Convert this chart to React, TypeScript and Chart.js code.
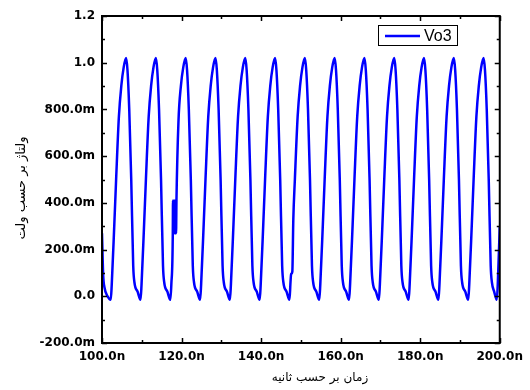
import React, { useEffect, useRef } from "react";
import { Chart, registerables } from "chart.js";

Chart.register(...registerables);

// Simulated node voltage Vo3 over 100–200 ns (time in ns, voltage in V)
const timeNs = [
  100.0, 100.3, 100.6, 101.4, 102.2,
  102.45, 103.1, 103.55, 104.25, 104.85, 105.45, 106.05, 106.4, 106.85, 107.35, 107.85, 108.15, 108.95, 109.69,
  109.94, 110.59, 111.04, 111.74, 112.34, 112.94, 113.54, 113.89, 114.34, 114.84, 115.34, 115.64, 116.44, 117.18,
  117.43, 117.8, 117.85, 118.05, 118.15, 118.35, 118.45, 118.62, 118.72, 119.23, 119.83, 120.43, 121.03, 121.38, 121.83, 122.33, 122.83, 123.13, 123.93, 124.67,
  124.92, 125.57, 126.02, 126.72, 127.32, 127.92, 128.52, 128.87, 129.32, 129.82, 130.32, 130.62, 131.42, 132.16,
  132.41, 133.06, 133.51, 134.21, 134.81, 135.41, 136.01, 136.36, 136.81, 137.31, 137.81, 138.11, 138.91, 139.65,
  139.9, 140.55, 141.0, 141.7, 142.3, 142.9, 143.5, 143.85, 144.3, 144.8, 145.3, 145.6, 146.4, 147.14,
  147.39, 147.55, 147.85, 148.1, 148.49, 149.19, 149.79, 150.39, 150.99, 151.34, 151.79, 152.29, 152.79, 153.09, 153.89, 154.63,
  154.88, 155.53, 155.98, 156.68, 157.28, 157.88, 158.48, 158.83, 159.28, 159.78, 160.28, 160.58, 161.38, 162.12,
  162.37, 163.02, 163.47, 164.17, 164.77, 165.37, 165.97, 166.32, 166.77, 167.27, 167.77, 168.07, 168.87, 169.61,
  169.86, 170.51, 170.96, 171.66, 172.26, 172.86, 173.46, 173.81, 174.26, 174.76, 175.26, 175.56, 176.36, 177.1,
  177.35, 178.0, 178.45, 179.15, 179.75, 180.35, 180.95, 181.3, 181.75, 182.25, 182.75, 183.05, 183.85, 184.59,
  184.84, 185.49, 185.94, 186.64, 187.24, 187.84, 188.44, 188.79, 189.24, 189.74, 190.24, 190.54, 191.34, 192.08,
  192.33, 192.98, 193.43, 194.13, 194.73, 195.33, 195.93, 196.28, 196.73, 197.23, 197.73, 198.03, 198.6, 199.25,
  199.5, 200.0,
];

const vo3 = [
  0.27, 0.09, 0.04, 0.0, -0.015,
  0.05, 0.31, 0.5, 0.77, 0.9, 0.98, 1.02, 0.97, 0.8, 0.5, 0.13, 0.06, 0.02, -0.015,
  0.05, 0.31, 0.5, 0.77, 0.9, 0.98, 1.02, 0.97, 0.8, 0.5, 0.13, 0.06, 0.02, -0.015,
  0.05, 0.27, 0.41, 0.27, 0.41, 0.27, 0.41, 0.27, 0.41, 0.75, 0.9, 0.98, 1.02, 0.97, 0.8, 0.5, 0.13, 0.06, 0.02, -0.015,
  0.05, 0.31, 0.5, 0.77, 0.9, 0.98, 1.02, 0.97, 0.8, 0.5, 0.13, 0.06, 0.02, -0.015,
  0.05, 0.31, 0.5, 0.77, 0.9, 0.98, 1.02, 0.97, 0.8, 0.5, 0.13, 0.06, 0.02, -0.015,
  0.05, 0.31, 0.5, 0.77, 0.9, 0.98, 1.02, 0.97, 0.8, 0.5, 0.13, 0.06, 0.02, -0.015,
  0.06, 0.095, 0.105, 0.33, 0.5, 0.77, 0.9, 0.98, 1.02, 0.97, 0.8, 0.5, 0.13, 0.06, 0.02, -0.015,
  0.05, 0.31, 0.5, 0.77, 0.9, 0.98, 1.02, 0.97, 0.8, 0.5, 0.13, 0.06, 0.02, -0.015,
  0.05, 0.31, 0.5, 0.77, 0.9, 0.98, 1.02, 0.97, 0.8, 0.5, 0.13, 0.06, 0.02, -0.015,
  0.05, 0.31, 0.5, 0.77, 0.9, 0.98, 1.02, 0.97, 0.8, 0.5, 0.13, 0.06, 0.02, -0.015,
  0.05, 0.31, 0.5, 0.77, 0.9, 0.98, 1.02, 0.97, 0.8, 0.5, 0.13, 0.06, 0.02, -0.015,
  0.05, 0.31, 0.5, 0.77, 0.9, 0.98, 1.02, 0.97, 0.8, 0.5, 0.13, 0.06, 0.02, -0.015,
  0.05, 0.31, 0.5, 0.77, 0.9, 0.98, 1.02, 0.97, 0.8, 0.5, 0.13, 0.06, 0.02, -0.015,
  0.05, 0.3,
];

const xTickValues = [100, 120, 140, 160, 180, 200];
const xTickLabels = ["100.0n", "120.0n", "140.0n", "160.0n", "180.0n", "200.0n"];
const xMinorValues = [110, 130, 150, 170, 190];

const yTickValues = [-0.2, 0, 0.2, 0.4, 0.6, 0.8, 1.0, 1.2];
const yTickLabels = ["-200.0m", "0.0", "200.0m", "400.0m", "600.0m", "800.0m", "1.0", "1.2"];
const yMinorValues = [-0.1, 0.1, 0.3, 0.5, 0.7, 0.9, 1.1];

const seriesName = "Vo3";
const xTitle = "زمان بر حسب ثانیه";
const yTitle = "ولتاژ بر حسب ولت";

const lineColor = "#0000ff";
const tickFont = { family: "'DejaVu Sans', Verdana, sans-serif", size: 12, weight: "bold" as const };

// Box frame with inward major/minor ticks on all four sides
const framePlugin = {
  id: "frameTicks",
  afterDraw(chart: any) {
    const { ctx, chartArea } = chart;
    const { left, right, top, bottom } = chartArea;
    const xs = chart.scales.x;
    const ys = chart.scales.y;
    ctx.save();
    ctx.strokeStyle = "#000";
    ctx.lineWidth = 2;
    ctx.strokeRect(left, top, right - left, bottom - top);
    ctx.lineWidth = 1.5;
    const tick = (vals: number[], len: number) => {
      vals.forEach((v) => {
        const px = Math.round(xs.getPixelForValue(v)) + 0.5;
        ctx.beginPath();
        ctx.moveTo(px, bottom);
        ctx.lineTo(px, bottom - len);
        ctx.moveTo(px, top);
        ctx.lineTo(px, top + len);
        ctx.stroke();
      });
    };
    const ytick = (vals: number[], len: number) => {
      vals.forEach((v) => {
        const py = Math.round(ys.getPixelForValue(v)) + 0.5;
        ctx.beginPath();
        ctx.moveTo(left, py);
        ctx.lineTo(left + len, py);
        ctx.moveTo(right, py);
        ctx.lineTo(right - len, py);
        ctx.stroke();
      });
    };
    tick(xTickValues, 5);
    tick(xMinorValues, 3);
    ytick(yTickValues, 5);
    ytick(yMinorValues, 3);
    ctx.restore();
  },
};

// Axis titles and boxed legend inside the plot
const labelsPlugin = {
  id: "titlesLegend",
  afterDraw(chart: any) {
    const { ctx } = chart;
    ctx.save();
    ctx.fillStyle = "#000";
    ctx.font = "12px 'DejaVu Sans', sans-serif";
    ctx.textAlign = "center";
    ctx.textBaseline = "middle";
    ctx.direction = "rtl";
    ctx.fillText(xTitle, 320, 378);
    ctx.translate(22, 188);
    ctx.rotate(-Math.PI / 2);
    ctx.font = "13px 'DejaVu Sans', sans-serif";
    ctx.fillText(yTitle, 0, 0);
    ctx.restore();

    ctx.save();
    ctx.fillStyle = "#fff";
    ctx.fillRect(378, 25, 80, 21);
    ctx.strokeStyle = "#000";
    ctx.lineWidth = 1;
    ctx.strokeRect(378.5, 25.5, 79, 20);
    ctx.strokeStyle = lineColor;
    ctx.lineWidth = 2.5;
    ctx.beginPath();
    ctx.moveTo(385, 36);
    ctx.lineTo(420, 36);
    ctx.stroke();
    ctx.fillStyle = "#000";
    ctx.font = "16px 'Liberation Sans', Arial, sans-serif";
    ctx.textAlign = "left";
    ctx.textBaseline = "middle";
    ctx.fillText(seriesName, 424, 36.5);
    ctx.restore();
  },
};

export default function App() {
  const canvasRef = useRef<HTMLCanvasElement | null>(null);

  useEffect(() => {
    const canvas = canvasRef.current;
    if (!canvas) return;
    const chart = new Chart(canvas, {
      type: "line",
      data: {
        datasets: [
          {
            label: seriesName,
            data: timeNs.map((t, i) => ({ x: t, y: vo3[i] })),
            borderColor: lineColor,
            borderWidth: 2.5,
            pointRadius: 0,
            fill: false,
            cubicInterpolationMode: "monotone",
          },
        ],
      },
      options: {
        responsive: false,
        animation: false,
        devicePixelRatio: 1,
        layout: { padding: { top: 16, right: 28, left: 0, bottom: 0 } },
        plugins: {
          legend: { display: false },
          tooltip: { enabled: false },
        },
        scales: {
          x: {
            type: "linear",
            min: 100,
            max: 200,
            afterBuildTicks: (scale: any) => {
              scale.ticks = xTickValues.map((v) => ({ value: v }));
            },
            afterFit: (scale: any) => {
              scale.height = 47;
            },
            ticks: {
              autoSkip: false,
              maxRotation: 0,
              padding: 7,
              color: "#000",
              font: tickFont,
              callback: (_v: any, i: number) => xTickLabels[i],
            },
            grid: { display: false, drawTicks: false },
            border: { display: false },
          },
          y: {
            type: "linear",
            min: -0.2,
            max: 1.2,
            afterBuildTicks: (scale: any) => {
              scale.ticks = yTickValues.map((v) => ({ value: v }));
            },
            afterFit: (scale: any) => {
              scale.width = 102;
            },
            ticks: {
              autoSkip: false,
              padding: 7,
              color: "#000",
              font: tickFont,
              callback: (_v: any, i: number) => yTickLabels[i],
            },
            grid: { display: false, drawTicks: false },
            border: { display: false },
          },
        },
      },
      plugins: [framePlugin, labelsPlugin],
    });
    return () => chart.destroy();
  }, []);

  return (
    <div style={{ position: "fixed", left: 0, top: 0, width: 530, height: 390, background: "#fff" }}>
      <canvas ref={canvasRef} width={530} height={390} style={{ width: 530, height: 390 }} />
    </div>
  );
}
